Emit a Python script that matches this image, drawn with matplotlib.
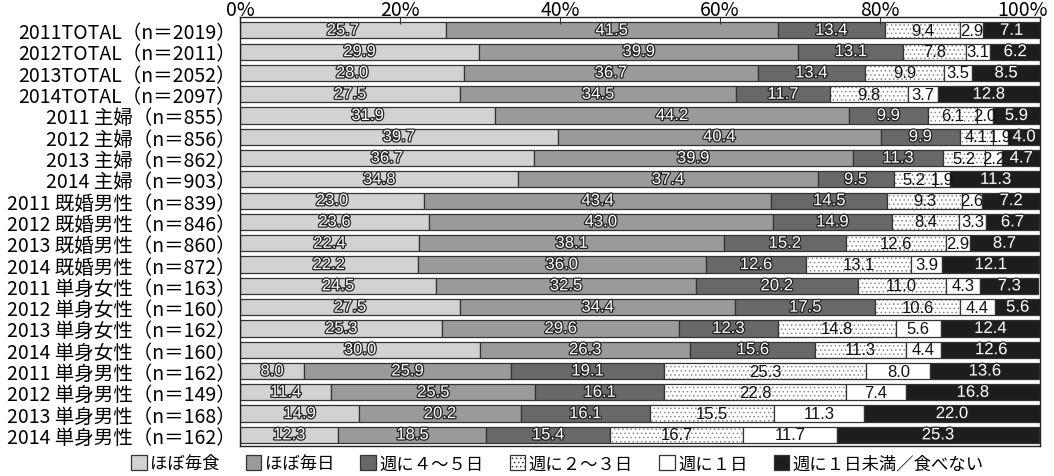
import numpy as np
import matplotlib.pyplot as plt
import matplotlib.patheffects as pe
from matplotlib.patches import Patch
from matplotlib.transforms import ScaledTranslation

plt.rcParams['font.family'] = ['Noto Sans CJK JP', 'DejaVu Sans']
plt.rcParams['hatch.linewidth'] = 0.6

# groups (top to bottom)
labels = ['2011TOTAL（n＝2019）', '2012TOTAL（n＝2011）', '2013TOTAL（n＝2052）', '2014TOTAL（n＝2097）',
          '2011 主婦（n＝855）', '2012 主婦（n＝856）', '2013 主婦（n＝862）', '2014 主婦（n＝903）',
          '2011 既婚男性（n＝839）', '2012 既婚男性（n＝846）', '2013 既婚男性（n＝860）', '2014 既婚男性（n＝872）',
          '2011 単身女性（n＝163）', '2012 単身女性（n＝160）', '2013 単身女性（n＝162）', '2014 単身女性（n＝160）',
          '2011 単身男性（n＝162）', '2012 単身男性（n＝149）', '2013 単身男性（n＝168）', '2014 単身男性（n＝162）']

categories = ['ほぼ毎食', 'ほぼ毎日', '週に４～５日', '週に２～３日', '週に１日', '週に１日未満／食べない']

almost_every_meal = [25.7, 29.9, 28.0, 27.5, 31.9, 39.7, 36.7, 34.8, 23.0, 23.6,
                     22.4, 22.2, 24.5, 27.5, 25.3, 30.0, 8.0, 11.4, 14.9, 12.3]
almost_every_day = [41.5, 39.9, 36.7, 34.5, 44.2, 40.4, 39.9, 37.4, 43.4, 43.0,
                    38.1, 36.0, 32.5, 34.4, 29.6, 26.3, 25.9, 25.5, 20.2, 18.5]
four_five_week = [13.4, 13.1, 13.4, 11.7, 9.9, 9.9, 11.3, 9.5, 14.5, 14.9,
                  15.2, 12.6, 20.2, 17.5, 12.3, 15.6, 19.1, 16.1, 16.1, 15.4]
two_three_week = [9.4, 7.8, 9.9, 9.8, 6.1, 4.1, 5.2, 5.2, 9.3, 8.4,
                  12.6, 13.1, 11.0, 10.6, 14.8, 11.3, 25.3, 22.8, 15.5, 16.7]
once_week = [2.9, 3.1, 3.5, 3.7, 2.0, 1.9, 2.2, 1.9, 2.6, 3.3,
             2.9, 3.9, 4.3, 4.4, 5.6, 4.4, 8.0, 7.4, 11.3, 11.7]
less_than_once = [7.1, 6.2, 8.5, 12.8, 5.9, 4.0, 4.7, 11.3, 7.2, 6.7,
                  8.7, 12.1, 7.3, 5.6, 12.4, 12.6, 13.6, 16.8, 22.0, 25.3]

series = [almost_every_meal, almost_every_day, four_five_week, two_three_week, once_week, less_than_once]
colors = ['#d2d2d4', '#9a9a9c', '#68686a', 'white', 'white', '#1e1c1d']
hatches = [None, None, None, '....', None, None]
outlined = [True, True, True, False, False, True]

fig = plt.figure(figsize=(10.54, 4.77), dpi=100)
ax = fig.add_axes([0.2277, 0.063, 0.759, 0.899])

y = np.arange(len(labels))
left = np.zeros(len(labels))
h = 0.76
for vals, c, ht, outl in zip(series, colors, hatches, outlined):
    vals = np.array(vals)
    if ht:
        ax.barh(y, vals, left=left, height=h, color=c, hatch=ht, edgecolor='#8a8a8a', linewidth=0)
        ax.barh(y, vals, left=left, height=h, color='none', edgecolor='#333333', linewidth=0.9)
    else:
        ax.barh(y, vals, left=left, height=h, color=c, edgecolor='#333333', linewidth=0.9)
    for yi, l, v in zip(y, left, vals):
        if outl:
            ax.text(l + v / 2, yi, f'{v:.1f}', ha='center', va='center', fontsize=12,
                    color='white', family='Liberation Sans',
                    path_effects=[pe.withStroke(linewidth=1.8, foreground='#222222')])
        else:
            ax.text(l + v / 2, yi, f'{v:.1f}', ha='center', va='center', fontsize=12,
                    color='#111111', family='Liberation Sans')
    left += vals

ax.set_xlim(0, 100)
ax.set_ylim(len(labels) - 0.48, -0.62)
ax.set_yticks(y)
ax.set_yticklabels(labels, fontsize=14)
ax.tick_params(axis='y', length=0, pad=3)
ax.xaxis.tick_top()
ax.set_xticks([0, 20, 40, 60, 80, 100])
ax.set_xticklabels(['0%', '20%', '40%', '60%', '80%', '100%'], fontsize=14)
ax.tick_params(axis='x', direction='in', length=5, width=0.8, pad=-2, color='#333333')
# keep "100%" inside the figure
last = ax.get_xticklabels()[-1]
last.set_transform(last.get_transform() + ScaledTranslation(-0.17, 0, fig.dpi_scale_trans))
for s in ax.spines.values():
    s.set_linewidth(1.0)
    s.set_color('#222222')

handles = []
for c, ht in zip(colors, hatches):
    handles.append(Patch(facecolor=c, edgecolor='#333333', hatch=ht, linewidth=0.9))
fig.legend(handles, categories, loc='lower center', bbox_to_anchor=(0.529, -0.025), ncol=6,
           frameon=False, fontsize=12.5, handlelength=0.9, handleheight=0.9,
           handletextpad=0.2, columnspacing=1.5)

fig.savefig('out.png', dpi=100)
